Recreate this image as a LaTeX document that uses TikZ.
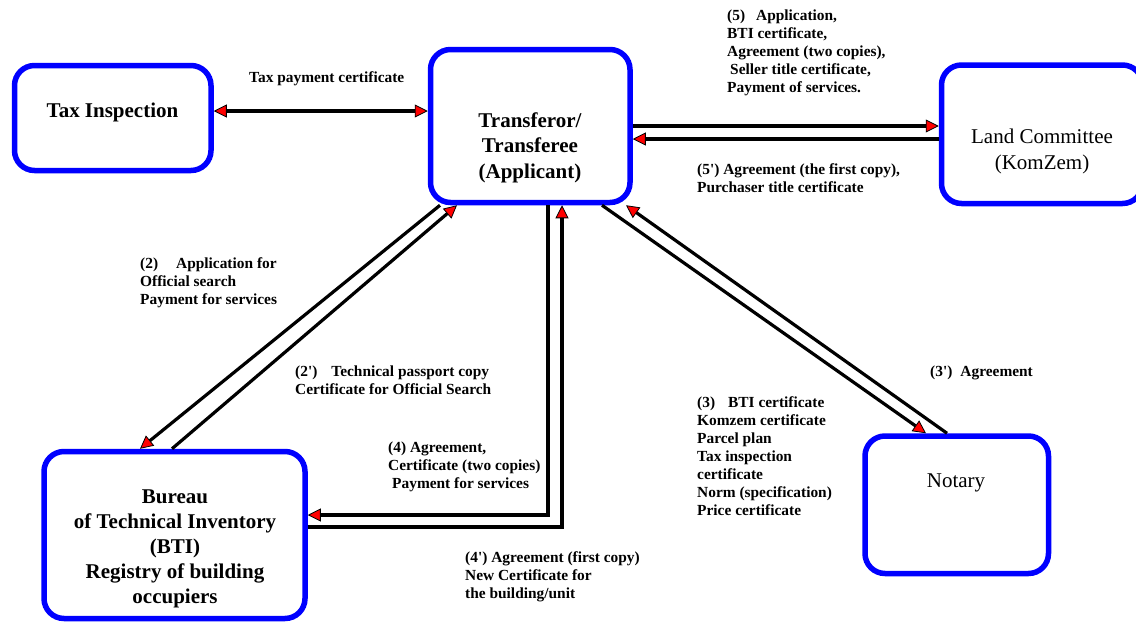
\documentclass[tikz,border=0pt]{standalone}
\usepackage{fontspec}
\setmainfont{Liberation Serif}
\usetikzlibrary{arrows.meta}
\tikzset{
  redtri/.tip={Triangle[length=13pt,width=13pt,fill=red,line width=0.8pt]},
  panel/.style={draw=blue, line width=5.5pt, rounded corners=20pt, inner sep=0pt},
  bigb/.style={font=\fontsize{21}{25.5}\selectfont\bfseries, align=center, inner sep=0pt},
  bigr/.style={font=\fontsize{21}{26}\selectfont, align=center, inner sep=0pt},
  lbl/.style={font=\fontsize{15.4}{18}\selectfont\bfseries, align=left, anchor=north west, inner sep=0pt},
  arr/.style={line width=3.2pt, -redtri},
  arrboth/.style={line width=3.2pt, redtri-redtri},
}
\begin{document}
\begin{tikzpicture}[x=1pt,y=-1pt]
\useasboundingbox (0,0) rectangle (1136,622);
% boxes
\node[panel, minimum width=196.5pt, minimum height=105pt] (tax) at (112.75,118) {};
\node[panel, minimum width=199.5pt, minimum height=153pt] (trans) at (530.25,126) {};
\node[panel, minimum width=201pt, minimum height=138.5pt] (land) at (1042,134.25) {};
\node[panel, minimum width=261pt, minimum height=167pt] (bti) at (174.5,535) {};
\node[panel, minimum width=183.5pt, minimum height=137.5pt] (notary) at (956.75,504.75) {};
% box texts
\node[bigb] (taxT) at (112.5,112) {Tax Inspection};
\node[bigb] (transT) at (530,147.5) {Transferor/\\Transferee\\(Applicant)};
\node[bigr] (landT) at (1042,151) {Land Committee\\(KomZem)};
\node[bigb, font=\fontsize{21}{25}\selectfont\bfseries] (btiT) at (175,548.5) {Bureau\\of Technical Inventory\\(BTI)\\Registry of building\\occupiers};
\node[bigr] (notT) at (956,483.3) {Notary};
% labels
\node[lbl] (lTax) at (249,71) {Tax payment certificate};
\node[lbl] (l5) at (727,10) {(5)\hspace{11pt}Application,\\BTI certificate,\\Agreement (two copies),\\\hspace{3pt}Seller title certificate,\\Payment of services.};
\node[lbl] (l5p) at (697,163) {(5\textquotesingle) Agreement (the first copy),\\Purchaser title certificate};
\node[lbl] (l2) at (140,257) {(2)\hspace{18pt}Application for\\Official search\\Payment for services};
\node[lbl] (l2p) at (295,366) {(2\textquotesingle)\hspace{14pt}Technical passport copy\\Certificate for Official Search};
\node[lbl] (l4) at (388,442) {(4) Agreement,\\Certificate (two copies)\\\hspace{4pt}Payment for services};
\node[lbl] (l4p) at (465,551) {(4\textquotesingle) Agreement (first copy)\\New Certificate for\\the building/unit};
\node[lbl] (l3) at (697,396) {(3)\hspace{13pt}BTI certificate\\Komzem certificate\\Parcel plan\\Tax inspection\\certificate\\Norm (specification)\\Price certificate};
\node[lbl] (l3p) at (930,366) {(3\textquotesingle)\hspace{8pt}Agreement};
% connectors
\draw[arrboth] (tax.east |- 0,111) -- (trans.west |- 0,111);
\draw[arr] (trans.east |- 0,126) -- (land.west |- 0,126);
\draw[arr] (land.west |- 0,139) -- (trans.east |- 0,139);
\draw[arr] (440,0 |- trans.south) -- (140,0 |- bti.north);
\draw[arr] (172,0 |- bti.north) -- (457,0 |- trans.south);
\draw[arr] (548,0 |- trans.south) |- (bti.east |- 0,515);
\draw[arr] (bti.east |- 0,527) -| (562,0 |- trans.south);
\draw[arr] (602,0 |- trans.south) -- (926,0 |- notary.north);
\draw[arr] (947,0 |- notary.north) -- (626,0 |- trans.south);
\end{tikzpicture}
\end{document}
